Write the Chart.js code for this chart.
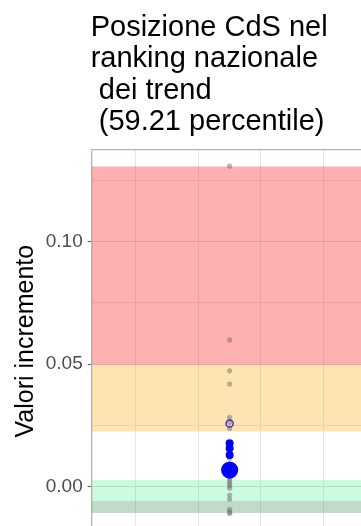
<!DOCTYPE html>
<html>
<head>
<meta charset="utf-8">
<script src="https://cdn.jsdelivr.net/npm/chart.js@4.4.1/dist/chart.umd.min.js"></script>
<style>
  html, body { margin: 0; padding: 0; overflow: hidden; background: #fff; }
  #box { width: 361px; height: 526px; overflow: hidden; }
  canvas { display: block; }
</style>
</head>
<body>
<div id="box"><canvas id="myChart" width="361" height="533"></canvas></div>
<script>
let titleLines = ["Posizione CdS nel", "ranking nazionale", " dei trend", " (59.21 percentile)"];
let yTitle = "Valori incremento";
let yTickValues = [0, 0.05, 0.10];
let yTickLabels = ["0.00", "0.05", "0.10"];
let yMinorValues = [0.025, 0.075, 0.125];
let xGridValues = [-1, 0, 1, 2];

// all courses, one column
let xCourse = 0.5;
let nationalTrends = [0.1308, 0.0599, 0.0473, 0.0419, 0.0283, 0.0262, 0.0238, 0.0116,
    0.0085, 0.0068, 0.0052, 0.0034, 0.0024, 0.0014, 0.0004, -0.0006,
    -0.0034, -0.0051, -0.0092, -0.0103, -0.0109];
let courseTrends = [0.0177, 0.0157, 0.0129];
let courseOpen = [0.0258];
let courseValue = [0.0068];

// fasce: alto, medio-alto, medio-basso, basso
let bandTop = [0.1307, 0.0498, 0.0027, -0.0058];
let bandBottom = [0.0498, 0.0225, -0.0058, -0.0107];
let bandColors = ["rgba(255,0,0,0.31)", "rgba(250,165,0,0.3)", "rgba(0,235,100,0.2)", "rgba(30,120,60,0.27)"];

let xMin = -1.7, xMax = 2.595;
let yMin = -0.0189, yMax = 0.1377;
let fontFamily = '"Liberation Sans", Arial, sans-serif';

function pts(values) {
    return values.map(function (v) { return { x: xCourse, y: v }; });
}

function noPadding(scale) {
    scale.paddingTop = 0;
    scale.paddingBottom = 0;
    scale.paddingLeft = 0;
    scale.paddingRight = 0;
}

let datasets = bandTop.map(function (top, i) {
    return {
        type: "line",
        data: [{ x: xMin, y: top }, { x: xMax, y: top }],
        borderWidth: 0,
        pointRadius: 0,
        backgroundColor: bandColors[i],
        fill: { value: bandBottom[i] },
        order: 10
    };
});

datasets.push({
    data: pts(nationalTrends),
    pointRadius: 2.6,
    pointBackgroundColor: "rgba(110,110,110,0.5)",
    pointBorderWidth: 0,
    order: 5
});
datasets.push({
    data: pts(courseOpen),
    pointRadius: 3.6,
    pointBackgroundColor: "rgba(0,0,0,0)",
    pointBorderColor: "rgba(50,30,210,0.9)",
    pointBorderWidth: 1.5,
    order: 3
});
datasets.push({
    data: pts(courseTrends),
    pointRadius: 4,
    pointBackgroundColor: "#0000ff",
    pointBorderWidth: 0,
    order: 2
});
datasets.push({
    data: pts(courseValue),
    pointRadius: 8.6,
    pointBackgroundColor: "#0000ff",
    pointBorderWidth: 0,
    order: 1
});

const titlePlugin = {
    id: "titoloGrafico",
    afterDraw(chart) {
        const ctx = chart.ctx;
        ctx.save();
        ctx.font = "29px " + fontFamily;
        ctx.fillStyle = "#000";
        ctx.textBaseline = "alphabetic";
        titleLines.forEach(function (line, i) {
            ctx.fillText(line, chart.chartArea.left - 1, 36 + i * 31.3);
        });
        ctx.restore();
    }
};

// the canvas is a bit taller than its box: the panel runs past the bottom edge
let trendChart = new Chart("myChart", {
    type: "scatter",
    data: { datasets: datasets },
    plugins: [titlePlugin],
    options: {
        responsive: false,
        animation: false,
        layout: { autoPadding: false, padding: { top: 149.3, bottom: 0, left: 0, right: 0 } },
        plugins: {
            legend: { display: false },
            tooltip: { enabled: false }
        },
        scales: {
            x: {
                type: "linear",
                position: "top",
                min: xMin,
                max: xMax,
                afterBuildTicks: function (scale) {
                    scale.ticks = xGridValues.map(function (v) { return { value: v }; });
                },
                afterFit: function (scale) { scale.height = 0; noPadding(scale); },
                ticks: { display: false },
                grid: { color: "#e6e6e6", lineWidth: 1, drawTicks: false },
                border: { display: true, color: "#b3b3b3", width: 1.3 }
            },
            y: {
                type: "linear",
                min: yMin,
                max: yMax,
                afterBuildTicks: function (scale) {
                    scale.ticks = yTickValues.concat(yMinorValues)
                        .sort(function (a, b) { return a - b; })
                        .map(function (v) { return { value: v }; });
                },
                afterFit: function (scale) { scale.width = 91.7; noPadding(scale); },
                ticks: {
                    color: "#4d4d4d",
                    font: { size: 19, family: fontFamily },
                    padding: 5,
                    callback: function (value) {
                        let i = yTickValues.indexOf(value);
                        return i >= 0 ? yTickLabels[i] : "";
                    }
                },
                grid: {
                    color: function (c) { return yTickValues.includes(c.tick.value) ? "#dedede" : "#e8e8e8"; },
                    lineWidth: 1,
                    tickLength: 4,
                    tickColor: function (c) { return yTickValues.includes(c.tick.value) ? "#666666" : "rgba(0,0,0,0)"; },
                    tickWidth: 1.2
                },
                border: { display: true, color: "#b3b3b3", width: 1.3 },
                title: {
                    display: true,
                    text: yTitle,
                    color: "#000",
                    font: { size: 25, family: fontFamily },
                    padding: { top: 11, bottom: 0 }
                }
            }
        }
    }
});
</script>
</body>
</html>
